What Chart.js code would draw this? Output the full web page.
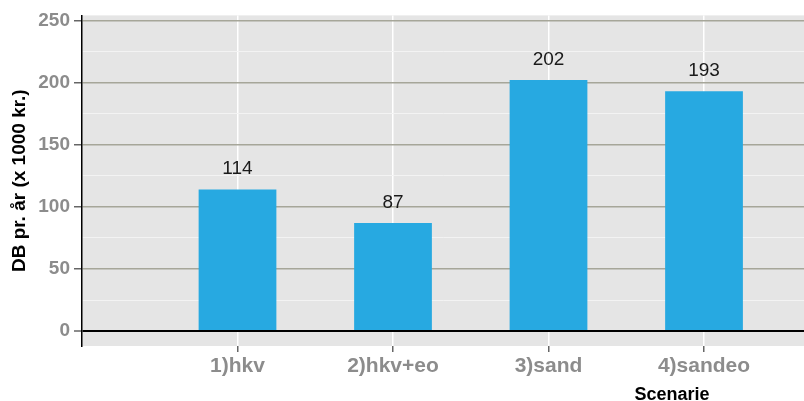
<!DOCTYPE html>
<html>
<head>
<meta charset="utf-8">
<script src="https://cdn.jsdelivr.net/npm/chart.js@4"></script>
<style>
  body { margin: 0; background: #fff; }
  #wrap { width: 804px; height: 401px; }
</style>
</head>
<body>
<div id="wrap"><canvas id="bar-chart" width="804" height="401"></canvas></div>
<script>
// Data
const categories = ['1)hkv', '2)hkv+eo', '3)sand', '4)sandeo'];
const xPositions = [1, 2, 3, 4];
const dbValues = [114, 87, 202, 193];
const yGridValues = [0, 25, 50, 75, 100, 125, 150, 175, 200, 225, 250];

const FONT = "'Liberation Sans', Arial, sans-serif";

// grey panel behind the plot
const panelBg = {
  id: 'panelBg',
  beforeDraw(chart) {
    const { ctx, chartArea: a } = chart;
    ctx.save();
    ctx.fillStyle = '#e5e5e5';
    ctx.fillRect(a.left, a.top, a.right - a.left, a.bottom - a.top);
    ctx.restore();
  }
};

// value labels above the bars + the x title
const barLabels = {
  id: 'barLabels',
  afterDatasetsDraw(chart) {
    const ctx = chart.ctx;
    const meta = chart.getDatasetMeta(0);
    ctx.save();
    ctx.font = '19px ' + FONT;
    ctx.fillStyle = '#1a1a1a';
    ctx.textAlign = 'center';
    ctx.textBaseline = 'bottom';
    meta.data.forEach((bar, i) => {
      ctx.fillText(String(dbValues[i]), bar.x, bar.y - 11);
    });
    ctx.font = 'bold 18px ' + FONT;
    ctx.fillStyle = '#000';
    ctx.textBaseline = 'alphabetic';
    ctx.fillText('Scenarie', 672, 400);
    ctx.restore();
  }
};

function initChart() {
  const ctx = document.getElementById('bar-chart').getContext('2d');
  new Chart(ctx, {
    type: 'bar',
    data: {
      datasets: [{
        data: xPositions.map((x, i) => ({ x: x, y: dbValues[i] })),
        backgroundColor: '#27a9e1',
        borderWidth: 0,
        barPercentage: 0.5,
        categoryPercentage: 1.0
      }]
    },
    options: {
      responsive: false,
      animation: false,
      devicePixelRatio: 1,
      layout: { padding: { top: 13, right: 0, left: 0, bottom: 0 } },
      plugins: {
        legend: { display: false },
        tooltip: { enabled: false }
      },
      scales: {
        x: {
          type: 'linear',
          min: 0,
          max: 4.643,
          offset: false,
          afterBuildTicks: s => { s.ticks = xPositions.map(v => ({ value: v })); },
          afterFit: s => { s.height = 55; },
          grid: {
            offset: false,
            color: '#ffffff',
            lineWidth: 1.5,
            tickLength: 6,
            tickColor: '#666',
            tickWidth: 1.5
          },
          border: { display: false },
          ticks: {
            autoSkip: false,
            maxRotation: 0,
            padding: 2,
            color: '#8c8c8c',
            font: { family: FONT, size: 21, weight: 'bold' },
            callback: v => categories[Math.round(v) - 1]
          }
        },
        y: {
          min: -12,
          max: 254,
          afterBuildTicks: s => { s.ticks = yGridValues.map(v => ({ value: v })); },
          afterFit: s => { s.width = 82; },
          grid: {
            color: c => c.tick.value === 0 ? '#000' : (c.tick.value % 50 === 0 ? '#a6a699' : '#f3f3f3'),
            lineWidth: c => c.tick.value === 0 ? 2 : (c.tick.value % 50 === 0 ? 1.5 : 1),
            tickColor: c => c.tick.value % 50 === 0 ? '#666' : 'rgba(0,0,0,0)',
            tickWidth: 1.5,
            tickLength: 8
          },
          border: { display: true, color: '#000', width: 1.5 },
          ticks: {
            padding: 4,
            color: '#8c8c8c',
            font: { family: FONT, size: 19, weight: 'bold' },
            callback: v => v % 50 === 0 ? String(v) : ''
          },
          title: {
            display: true,
            text: 'DB pr. år (x 1000 kr.)',
            color: '#000',
            font: { family: FONT, size: 19, weight: 'bold' },
            padding: { top: 8, bottom: 0 }
          }
        }
      }
    },
    plugins: [panelBg, barLabels]
  });
}

document.addEventListener('DOMContentLoaded', initChart);
</script>
</body>
</html>
